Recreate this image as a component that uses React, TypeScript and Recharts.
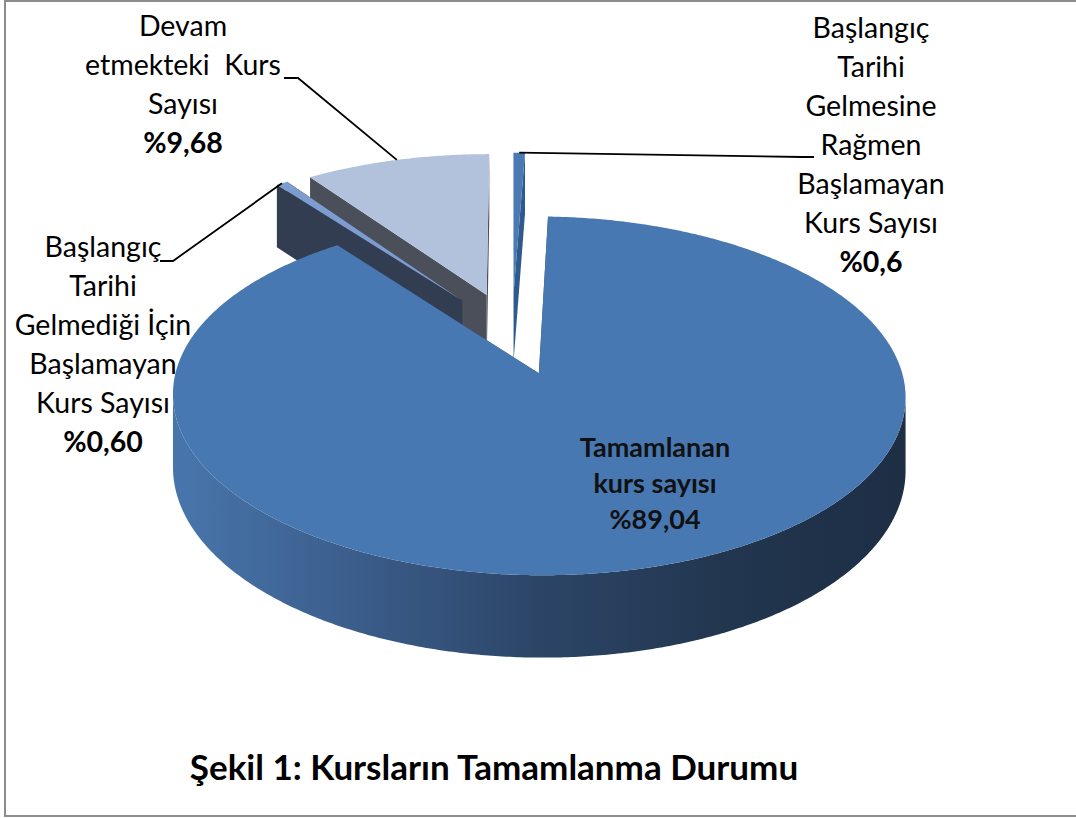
import React from 'react';
import { PieChart, Pie, Cell } from 'recharts';

// slices listed counter-clockwise from the top, which is also the back-to-front paint order
const CATEGORIES = [
  'Başlangıç\nTarihi\nGelmesine\nRağmen\nBaşlamayan\nKurs Sayısı',
  'Devam\netmekteki  Kurs\nSayısı',
  'Başlangıç\nTarihi\nGelmediği İçin\nBaşlamayan\nKurs Sayısı',
  'Tamamlanan\nkurs sayısı',
];
const VALUES = [0.6, 9.68, 0.6, 89.04];
const DECIMALS = [1, 2, 2, 2];

const TOP_COLORS = ['#4a79b3', '#b3c2dc', '#7d9dd1', '#4878b1'];
const SIDE_COLORS = ['#2f5a8e', '#4a4f59', '#323d51', '#2c4466'];
const WALL_STOPS = ['#4876ac', '#3b5d8b', '#2c4567', '#22364f', '#1d2e45'];

const TITLE = 'Şekil 1: Kursların Tamamlanma Durumu';
const FONT = 'Lato, "Noto Sans", sans-serif';

const data = CATEGORIES.map((name, idx) => ({ name, value: VALUES[idx], idx }));
const total = VALUES.reduce((a, b) => a + b, 0);
const START = 90 - (360 * VALUES[0]) / total;

// fake 3d: tilt + a bit of perspective, every slice pulled out from the centre
const K = 3.45e-4;
const TILT = 0.472;
const DEPTH = 70;
const EXPLODE = 87;
const RAD = Math.PI / 180;

function makeProj(p: any) {
  const { cx, cy, startAngle, endAngle } = p;
  const mid = ((startAngle + endAngle) / 2) * RAD;
  const ox = EXPLODE * Math.cos(mid);
  const oz = EXPLODE * Math.sin(mid);
  const pt = (r: number, deg: number, down = 0) => {
    const X = ox + r * Math.cos(deg * RAD);
    const Z = oz + r * Math.sin(deg * RAD);
    const s = 1 / (1 + K * Z);
    return [cx + X * s, cy - Z * TILT * s + down * s];
  };
  return { pt, ox, oz };
}

const poly = (pts: number[][]) => 'M' + pts.map((q) => q[0].toFixed(2) + ',' + q[1].toFixed(2)).join('L') + 'Z';

function Slice3D(props: any) {
  const { outerRadius: R, startAngle: a0, endAngle: a1 } = props;
  const i = props.idx ?? props.payload?.idx ?? 0;
  const { pt, ox, oz } = makeProj(props);
  const steps = Math.max(2, Math.ceil(Math.abs(a1 - a0) / 0.5));
  const angles = Array.from({ length: steps + 1 }, (_, k) => a0 + ((a1 - a0) * k) / steps);

  const top = [pt(0, 0), ...angles.map((a) => pt(R, a))];
  const cuts = [a0, a1].map((a) => [pt(0, a), pt(R, a), pt(R, a, DEPTH), pt(0, a, DEPTH)]);

  const seen = angles.filter((a) => {
    const c = Math.cos(a * RAD);
    const s = Math.sin(a * RAD);
    return -(ox * c + oz * s) - R - s / K > 0;
  });
  let wall: number[][] = [];
  if (seen.length > 1) {
    wall = [...seen.map((a) => pt(R, a)), ...seen.slice().reverse().map((a) => pt(R, a, DEPTH))];
  }
  const xs = wall.map((q) => q[0]);
  const gid = 'wall' + i;

  return (
    <g>
      {wall.length > 0 && (
        <defs>
          <linearGradient id={gid} gradientUnits="userSpaceOnUse" x1={Math.min(...xs)} x2={Math.max(...xs)} y1={0} y2={0}>
            {WALL_STOPS.map((c, k) => (
              <stop key={k} offset={k / (WALL_STOPS.length - 1)} stopColor={c} />
            ))}
          </linearGradient>
        </defs>
      )}
      {cuts.map((q, k) => (
        <path key={k} d={poly(q)} fill={SIDE_COLORS[i]} />
      ))}
      {wall.length > 0 && <path d={poly(wall)} fill={`url(#${gid})`} />}
      <path d={poly(top)} fill={TOP_COLORS[i]} />
    </g>
  );
}

const LABEL_POS = [
  { x: 871, y: 38, lh: 39, leader: [[802, 157], [814, 157]] },
  { x: 183, y: 36, lh: 39, leader: [[298, 78], [284, 78]] },
  { x: 103, y: 257, lh: 39, leader: [[173, 261], [160, 261]] },
  { x: 655, y: 457, lh: 36, leader: null },
];

function renderLabel(props: any) {
  const i = props.idx ?? props.payload?.idx ?? props.index;
  const pos = LABEL_POS[i];
  const lines = CATEGORIES[i].split('\n');
  const pct = '%' + VALUES[i].toFixed(DECIMALS[i]).replace('.', ',');
  const inside = !pos.leader;
  let leader = null;
  if (pos.leader) {
    const { pt } = makeProj(props);
    const start = pt(props.outerRadius, (props.startAngle + props.endAngle) / 2);
    const pts = [start, ...pos.leader];
    leader = <polyline points={pts.map((q) => q.join(',')).join(' ')} fill="none" stroke="#000" strokeWidth={1.8} />;
  }
  return (
    <g key={'lbl' + i}>
      {leader}
      {[...lines, pct].map((t, k) => (
        <text
          key={k}
          x={pos.x}
          y={pos.y + k * pos.lh}
          textAnchor="middle"
          fontFamily={FONT}
          fontSize={inside ? 27 : 28.5}
          fontWeight={inside || k === lines.length ? 700 : 400}
          fill={inside ? '#111' : '#000'}
          style={{ whiteSpace: 'pre' }}
        >
          {t}
        </text>
      ))}
    </g>
  );
}

export default function App() {
  return (
    <div style={{ position: 'absolute', left: 0, top: 0, width: 1076, height: 818, overflow: 'hidden', background: '#fff' }}>
      <div style={{ position: 'absolute', left: 0, top: 0 }}>
        <PieChart width={1076} height={818} margin={{ top: 0, right: 0, bottom: 0, left: 0 }}>
          <Pie
            data={data}
            dataKey="value"
            nameKey="name"
            cx={512}
            cy={333}
            outerRadius={353}
            startAngle={START}
            endAngle={START + 360}
            stroke="none"
            isAnimationActive={false}
            shape={Slice3D}
            labelLine={false}
            label={renderLabel}
          >
            {data.map((d) => (
              <Cell key={d.idx} fill={TOP_COLORS[d.idx]} />
            ))}
          </Pie>
        </PieChart>
      </div>
      <svg width={1076} height={818} style={{ position: 'absolute', left: 0, top: 0, pointerEvents: 'none' }}>
        <rect x={5} y={1} width={1080} height={815} fill="none" stroke="#8c8c8c" strokeWidth={2} />
        <text x={494} y={780} textAnchor="middle" fontFamily={FONT} fontSize={35} fontWeight={700} fill="#000">
          {TITLE}
        </text>
      </svg>
    </div>
  );
}
